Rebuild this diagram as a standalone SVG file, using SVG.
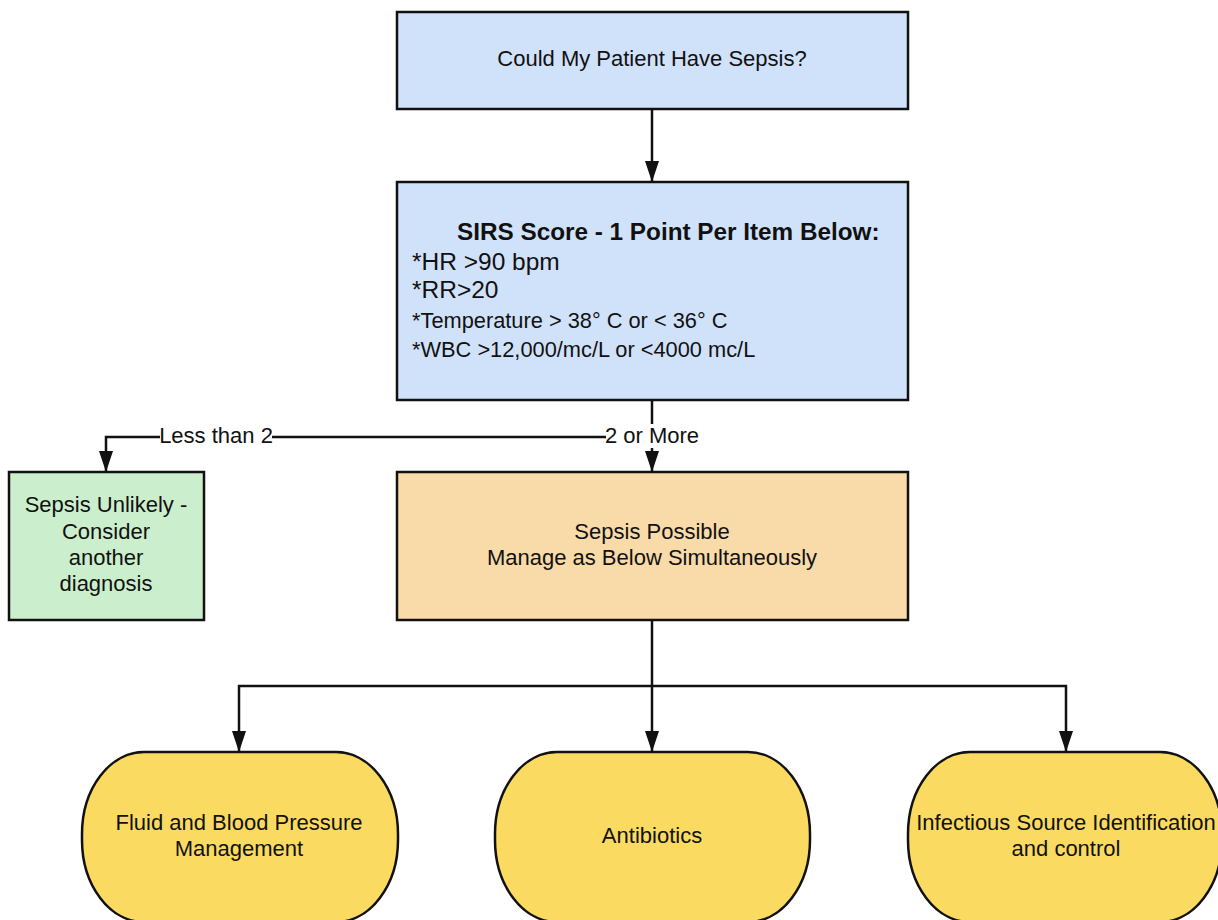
<svg xmlns="http://www.w3.org/2000/svg" width="1218" height="920" viewBox="0 0 1218 920">
  <style>
    text { font-family: "Liberation Sans", Arial, sans-serif; fill: #111; }
    .c { text-anchor: middle; font-size: 22px; }
    .box { stroke: #111; stroke-width: 2.5; }
    .blue { fill: #d0e2fa; }
    .green { fill: #cbefcc; }
    .orange { fill: #f9daa9; }
    .yellow { fill: #fbda62; }
    .wire { fill: none; stroke: #111; stroke-width: 2.5; }
    .lbl { font-size: 22px; text-anchor: middle; }
  </style>
  <defs>
    <marker id="arrow" markerWidth="21" markerHeight="15" refX="20" refY="7" orient="auto" markerUnits="userSpaceOnUse">
      <path d="M0,0 L21,7 L0,14 Z" fill="#111"/>
    </marker>
  </defs>

  <rect width="1218" height="920" fill="#ffffff"/>

  <!-- connectors -->
  <g id="connectors">
    <path class="wire" d="M652,109 V181" marker-end="url(#arrow)"/>
    <path class="wire" d="M652,400 V471" marker-end="url(#arrow)"/>
    <path class="wire" d="M652,437 H106 V471" marker-end="url(#arrow)"/>
    <path class="wire" d="M652,620 V751" marker-end="url(#arrow)"/>
    <path class="wire" d="M652,686 H239 V751" marker-end="url(#arrow)"/>
    <path class="wire" d="M652,686 H1066 V751" marker-end="url(#arrow)"/>
    <!-- branch labels -->
    <rect x="160" y="424" width="112" height="24" fill="#ffffff"/>
    <text class="lbl" x="216" y="443">Less than 2</text>
    <rect x="606" y="424" width="93" height="24" fill="#ffffff"/>
    <text class="lbl" x="652" y="443">2 or More</text>
  </g>

  <!-- start question -->
  <g id="node-start">
    <rect class="box blue" x="397" y="12" width="511" height="97"/>
    <text class="c" x="652" y="66">Could My Patient Have Sepsis?</text>
  </g>

  <!-- SIRS criteria -->
  <g id="node-sirs">
    <rect class="box blue" x="397" y="182" width="511" height="218"/>
    <text x="457" y="240" font-size="24.3" font-weight="bold">SIRS Score - 1 Point Per Item Below:</text>
    <text x="412" y="270" font-size="24.5">*HR &gt;90 bpm</text>
    <text x="412" y="298" font-size="24.5">*RR&gt;20</text>
    <text x="412" y="328" font-size="21.8">*Temperature &gt; 38° C or &lt; 36° C</text>
    <text x="412" y="357" font-size="21.8">*WBC &gt;12,000/mc/L or &lt;4000 mc/L</text>
  </g>

  <!-- unlikely branch -->
  <g id="node-unlikely">
    <rect class="box green" x="9" y="472" width="195" height="148"/>
    <text class="c" x="106" y="512">Sepsis Unlikely -</text>
    <text class="c" x="106" y="539">Consider</text>
    <text class="c" x="106" y="565">another</text>
    <text class="c" x="106" y="591">diagnosis</text>
  </g>

  <!-- possible branch -->
  <g id="node-possible">
    <rect class="box orange" x="397" y="472" width="511" height="148"/>
    <text class="c" x="652" y="539">Sepsis Possible</text>
    <text class="c" x="652" y="565">Manage as Below Simultaneously</text>
  </g>

  <!-- management steps -->
  <g id="node-fluids">
    <rect class="box yellow" x="82" y="752" width="316" height="170" rx="62" ry="82"/>
    <text class="c" x="239" y="830">Fluid and Blood Pressure</text>
    <text class="c" x="239" y="856">Management</text>
  </g>

  <g id="node-antibiotics">
    <rect class="box yellow" x="495" y="752" width="315" height="170" rx="62" ry="82"/>
    <text class="c" x="652" y="843">Antibiotics</text>
  </g>

  <g id="node-source">
    <rect class="box yellow" x="908" y="752" width="314" height="170" rx="62" ry="82"/>
    <text class="c" x="1066" y="830">Infectious Source Identification</text>
    <text class="c" x="1066" y="856">and control</text>
  </g>
</svg>
